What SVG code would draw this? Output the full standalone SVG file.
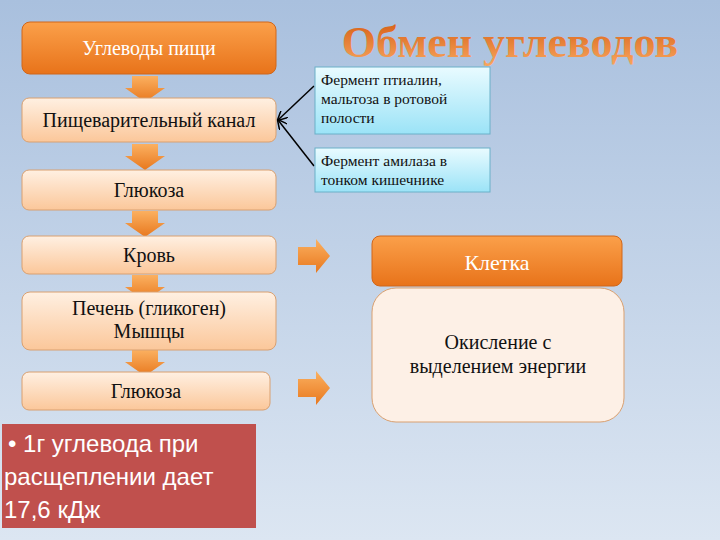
<svg xmlns="http://www.w3.org/2000/svg" width="720" height="540" viewBox="0 0 720 540">
<defs>
<linearGradient id="bg" x1="0" y1="0" x2="0" y2="1"><stop offset="0" stop-color="#a9c0de"/><stop offset="1" stop-color="#dce6f2"/></linearGradient>
<linearGradient id="or" x1="0" y1="0" x2="0" y2="1"><stop offset="0" stop-color="#fba04a"/><stop offset="1" stop-color="#e8731a"/></linearGradient>
<linearGradient id="pe" x1="0" y1="0" x2="0" y2="1"><stop offset="0" stop-color="#fff0e2"/><stop offset="1" stop-color="#fbc79a"/></linearGradient>
<linearGradient id="bl" x1="0" y1="0" x2="0" y2="1"><stop offset="0" stop-color="#e9fbff"/><stop offset="1" stop-color="#9be3f7"/></linearGradient>
<linearGradient id="ti" x1="0" y1="0" x2="0" y2="1"><stop offset="0" stop-color="#d45a10"/><stop offset="1" stop-color="#f9a860"/></linearGradient>
<linearGradient id="ar" x1="0" y1="0" x2="0" y2="1"><stop offset="0" stop-color="#fbb060"/><stop offset="1" stop-color="#e8781e"/></linearGradient>
<marker id="m" markerWidth="10" markerHeight="10" refX="9" refY="5" orient="auto" markerUnits="userSpaceOnUse"><path d="M0,0 L10,5 L0,10" fill="none" stroke="#000" stroke-width="1.5"/></marker>
<path id="down" d="M-13,0 H13 V12 H20 L0,26 L-20,12 H-13 Z" fill="url(#ar)"/>
<path id="right" d="M0,-9 H18 V-17 L32,0 L18,17 V9 H0 Z" fill="url(#ar)"/>
</defs>
<style>
text{font-family:"Liberation Serif","DejaVu Serif",serif;fill:#111}
.p{fill:url(#pe);stroke:#d9a070;stroke-width:1}
.o{fill:url(#or);stroke:#d0661a;stroke-width:1}
.b{fill:url(#bl);stroke:#6ab0c8;stroke-width:1}
.t{font-size:20px;text-anchor:middle}
.s{font-size:15.5px}
</style>
<rect width="720" height="540" fill="url(#bg)"/>
<text x="510" y="57" font-size="44" font-weight="bold" text-anchor="middle" style="fill:url(#ti)">Обмен углеводов</text>
<g id="arrows">
<use href="#down" x="145" y="76"/>
<use href="#down" x="145" y="144"/>
<use href="#down" x="145" y="211"/>
<use href="#down" x="145" y="275"/>
<use href="#down" x="145" y="350"/>
<use href="#right" x="298" y="256"/>
<use href="#right" x="298" y="388"/>
</g>
<g id="connectors">
<line x1="314" y1="86" x2="278" y2="120" stroke="#000" stroke-width="1.5" marker-end="url(#m)"/>
<line x1="314" y1="166" x2="278" y2="120" stroke="#000" stroke-width="1.5" marker-end="url(#m)"/>
</g>
<g id="n1"><rect class="o" x="22" y="22" width="254" height="52" rx="8"/><text class="t" x="149" y="55" style="fill:#fff">Углеводы пищи</text></g>
<g id="n2"><rect class="p" x="22" y="98" width="254" height="44" rx="7"/><text class="t" x="149" y="127">Пищеварительный канал</text></g>
<g id="n3"><rect class="p" x="22" y="170" width="254" height="40" rx="7"/><text class="t" x="149" y="197">Глюкоза</text></g>
<g id="n4"><rect class="p" x="22" y="236" width="254" height="38" rx="7"/><text class="t" x="149" y="262">Кровь</text></g>
<g id="n5"><rect class="p" x="22" y="292" width="254" height="58" rx="8"/><text class="t" x="149" y="315">Печень (гликоген)</text><text class="t" x="149" y="338">Мышцы</text></g>
<g id="n6"><rect class="p" x="22" y="372" width="248" height="38" rx="7"/><text class="t" x="146" y="398">Глюкоза</text></g>
<g id="n7"><rect x="2" y="424" width="254" height="104" fill="#c0504d"/><text x="8" y="452" font-size="24" style="font-family:'Liberation Sans',Arial,sans-serif;fill:#fff">• 1г углевода при</text><text x="4" y="485" font-size="24" style="font-family:'Liberation Sans',Arial,sans-serif;fill:#fff">расщеплении дает</text><text x="4" y="518" font-size="24" style="font-family:'Liberation Sans',Arial,sans-serif;fill:#fff">17,6 кДж</text></g>
<g id="n8"><rect class="b" x="315" y="67" width="175" height="67"/><text class="s" x="321" y="85">Фермент птиалин,</text><text class="s" x="321" y="104">мальтоза в ротовой</text><text class="s" x="321" y="123">полости</text></g>
<g id="n9"><rect class="b" x="315" y="148" width="175" height="44"/><text class="s" x="321" y="166">Фермент амилаза в</text><text class="s" x="321" y="185">тонком кишечнике</text></g>
<g id="n10"><rect class="o" x="372" y="236" width="250" height="50" rx="8"/><text x="497" y="270" font-size="22" text-anchor="middle" style="fill:#fff">Клетка</text></g>
<g id="n11"><rect class="p" x="372" y="288" width="252" height="134" rx="24" style="fill:#fdf0e6"/><text class="t" x="498" y="349">Окисление с</text><text class="t" x="498" y="373">выделением энергии</text></g>
</svg>
